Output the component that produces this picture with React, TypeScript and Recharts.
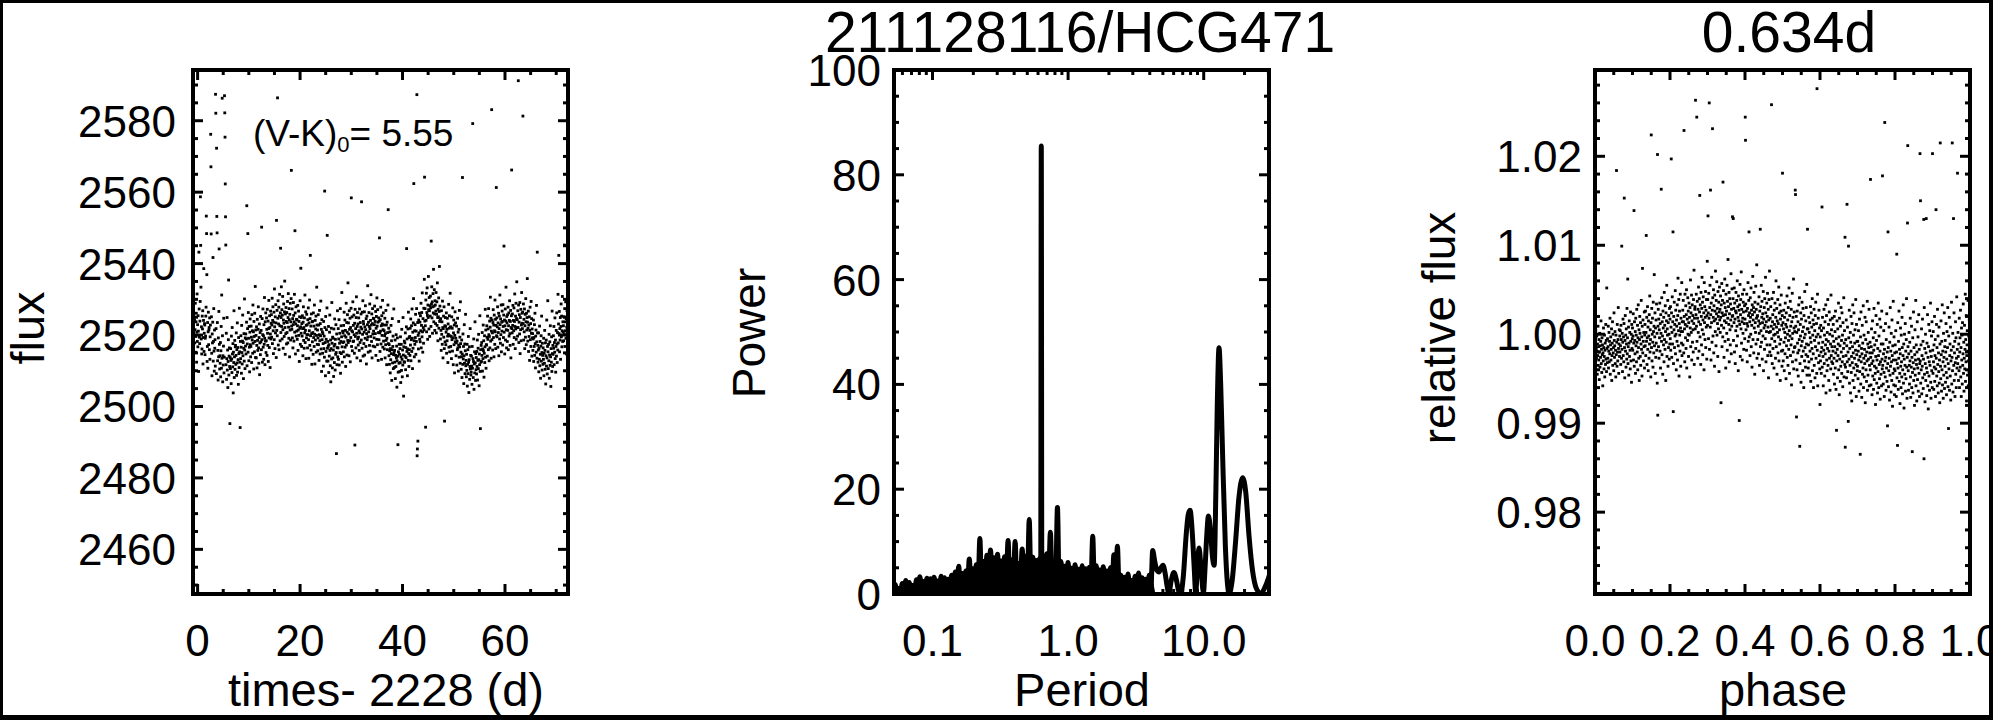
import React from 'react';
import { ScatterChart, Scatter, ComposedChart, Line, Area, XAxis, YAxis, ReferenceArea } from 'recharts';

// ---------------- page / layout ----------------
const PAGE_W = 2005;
const PAGE_H = 720;
const FONT = '"Liberation Sans", Arimo, Arial, Helvetica, sans-serif';
const BOX_TOP = 70;
const BOX_BOTTOM = 594;
const PLOT_H = BOX_BOTTOM - BOX_TOP;
const P1 = { left: 193, right: 568 };
const P2 = { left: 894, right: 1269 };
const P3 = { left: 1595, right: 1970 };

// ---------------- panel 1 : light curve ----------------
const LC_T0 = -0.6; // first sample time (d, minus 2228)
const LC_STEP = 0.05; // sample spacing (d)
const LC_FLUX_ZERO = 2500;
// flux - 2500, one row per day (20 samples each), in time order
const LC_FLUX_ROWS: number[][] = [
  [24.3, 17.8, 21.5, 28.9, 15.2, 19.6, 23.7, 26.1, 12.4, 20.8, 31.5, 18.2, 22.9, 16.7, 25.4, 21.1, 9.8, 43.2, 27.3, 19.4],
  [17.6, 23.9, 29.4, 58.7, 45.1, 33.4, 18.9, 22.3, 14.7, 16.1, 25.3, 21.7, 26.8, 11.9, 19.3, 24.1, 38.6, 15.4, 20.5, 23.2],
  [22.8, 14.5, 19.1, 19.7, 25.3, 27.8, 53.3, 48.4, 36.9, 12.6, 16.8, 23.5, 10.7, 20.9, 26.4, 17.3, 21.4, 22.1, 15.9, 24.8],
  [13.2, 19.5, 22.8, 76.2, 67.1, 48.3, 25.1, 14.9, 8.6, 20.3, 17.8, 23.6, 41.7, 12.7, 18.2, 27.4, 15.5, 9.9, 21.4, 16.3],
  [18.7, 11.3, 87.4, 82.1, 21.8, 9.2, 72.3, 53.2, 48.6, 23.5, 12.8, 15.7, 7.4, 19.2, 13.9, 26.6, 44.1, 17.4, 10.5, 14.2],
  [12.1, 17.9, 8.3, 15.6, 22.4, 10.7, 31.2, 13.5, 86.3, 19.8, 6.9, 14.2, 11.6, 16.9, 24.7, 9.4, 13.8, 87.0, 82.2, 75.4],
  [62.3, 53.1, 45.2, 11.7, 20.5, 7.6, 13.4, 24.9, 10.2, 15.8, 5.3, 12.6, 18.7, 35.4, 8.8, 14.1, 16.4, 11.2, -4.8, 13.7],
  [10.6, 16.2, 12.9, 6.4, 19.7, 13.3, 9.5, 22.1, 14.7, 11.1, 17.6, 3.8, 15.2, 12.3, 26.8, 8.1, 13.9, 18.5, 10.4, 16.7],
  [17.1, 11.8, 14.3, 20.6, 8.7, 15.9, 12.2, 23.4, 9.6, 16.5, 13.1, 6.2, 19.3, 14.8, 10.9, 27.5, 15.3, 12.4, -5.9, 18.2],
  [13.4, 19.8, 16.6, 9.3, 22.7, 15.1, 11.9, 18.3, 25.6, 14.2, 17.9, 7.8, 16.3, 20.4, 12.7, 30.1, 15.8, 10.6, 19.2, 16.9],
  [20.3, 14.7, 18.9, 23.6, 56.2, 11.4, 17.5, 21.8, 48.4, 15.2, 26.3, 19.1, 12.8, 22.4, 16.6, 9.7, 20.8, 24.5, 17.3, 13.9],
  [16.8, 22.5, 19.4, 12.3, 25.7, 18.6, 21.2, 14.9, 28.4, 17.7, 20.9, 10.5, 23.8, 19.6, 15.3, 26.1, 18.2, 33.6, 13.7, 21.4],
  [19.9, 13.6, 22.3, 17.1, 10.8, 24.4, 18.5, 15.7, 21.6, 27.9, 16.4, 12.1, 19.3, 23.1, 8.9, 17.8, 20.7, 14.5, 25.2, 18.1],
  [21.3, 15.9, 50.2, 18.7, 24.6, 12.4, 20.1, 27.3, 16.6, 19.8, 13.2, 22.9, 17.4, 30.5, 19.1, 11.7, 23.7, 18.3, 26.2, 15.1],
  [18.4, 24.8, 21.6, 14.3, 27.2, 20.5, 17.1, 23.9, 12.6, 21.8, 29.7, 19.2, 16.5, 25.4, 22.1, 10.9, 20.3, 26.7, 18.9, 23.3],
  [25.7, 19.4, 22.8, 30.3, 17.6, 24.1, 27.9, 21.2, 14.8, 23.6, 26.4, 18.7, 32.9, 22.3, 16.2, 25.1, 20.6, 28.5, 23.4, 13.7],
  [52.1, 21.3, 26.9, 19.8, 86.4, 24.7, 29.6, 17.2, 23.1, 27.8, 15.9, 25.3, 31.4, 22.6, 18.4, 26.2, 44.3, 20.7, 24.9, 33.5],
  [22.4, 27.1, 18.9, 25.6, 30.8, 21.5, 16.3, 24.2, 28.7, 23.3, 19.6, 26.5, 35.1, 22.1, 14.6, 25.9, 20.4, 27.7, 23.8, 17.5],
  [26.3, 20.7, 23.5, 29.4, 17.8, 24.9, 31.6, 22.2, 19.1, 27.4, 24.3, 13.9, 25.8, 21.4, 28.9, 18.6, 23.7, 30.2, 66.1, 22.5],
  [21.6, 27.3, 19.2, 24.6, 16.4, 22.9, 29.1, 25.5, 18.3, 23.7, 31.4, 20.8, 49.2, 26.2, 14.7, 23.1, 27.9, 19.7, 24.4, 21.1],
  [24.2, 18.8, 22.6, 28.3, 15.7, 21.4, 26.7, 19.9, 23.8, 12.6, 25.1, 21.9, 29.6, 17.4, 22.3, 38.7, 20.5, 24.9, 16.8, 23.2],
  [19.7, 25.4, 21.8, 14.2, 23.6, 27.9, 18.5, 22.1, 16.3, 24.8, 20.6, 31.2, 17.9, 21.3, 26.5, 13.4, 22.7, 19.2, 25.8, 20.1],
  [22.9, 16.4, 24.3, 20.1, 27.6, 18.7, 13.5, 23.4, 21.2, 29.8, 17.1, 24.6, 42.3, 19.8, 22.5, 15.8, 25.9, 20.4, 11.8, 23.7],
  [18.1, 23.8, 20.7, 14.6, 26.2, 19.3, 22.5, 16.8, 28.4, 20.2, 11.9, 24.1, 18.6, 21.7, 25.3, 15.2, 19.9, 33.4, 22.8, 17.4],
  [21.4, 15.6, 19.2, 25.7, 17.3, 22.8, 12.9, 20.1, 26.9, 18.4, 14.7, 23.2, 19.8, 29.5, 16.1, 21.6, 9.8, 24.3, 18.7, 20.9],
  [14.9, 20.4, 17.6, 11.3, 23.8, 16.2, 19.7, 13.8, 60.3, 22.1, 17.9, 8.6, 25.2, 15.4, 18.8, 21.5, 12.7, 27.6, 47.9, 16.3],
  [18.2, 12.7, 16.9, 22.4, 9.5, 17.3, 14.1, 20.8, 25.6, 15.7, 11.4, 18.6, 6.9, 16.2, 21.9, 13.3, 29.1, 17.7, 10.8, 19.4],
  [13.6, 19.1, 15.8, 8.4, 21.7, 16.9, 12.3, 24.5, 17.4, 10.2, 18.8, 14.6, 22.9, 15.1, -13.2, 20.3, 11.7, 16.5, 26.8, 13.9],
  [16.4, 21.8, 13.2, 18.9, 24.3, 11.6, 17.7, 20.5, 15.1, 27.4, 9.3, 18.2, 22.6, 14.8, 19.5, 31.9, 16.7, 12.4, 21.1, 17.9],
  [20.6, 15.3, 22.7, 18.1, 26.4, 13.9, 19.8, 24.2, 16.6, 21.3, 11.2, 19.4, 28.9, 17.2, 23.5, 14.4, 20.8, 25.7, 18.5, 34.6],
  [17.9, 23.4, 20.3, 14.2, 26.8, 21.6, 18.4, 24.7, 12.5, 22.1, 19.3, 27.5, 58.4, 16.8, 21.2, 25.1, 15.6, 20.9, 29.3, 18.2],
  [22.7, 18.3, 25.6, 20.1, 14.9, 23.3, -10.8, 27.2, 19.6, 21.8, 16.4, 24.9, 30.7, 20.5, 13.6, 22.4, 26.3, 18.9, 23.1, 17.2],
  [19.4, 24.8, 21.2, 15.7, 27.3, 20.6, 17.9, 23.5, 12.8, 22.2, 25.9, 18.6, 57.3, 21.7, 16.3, 26.4, 20.2, 29.6, 14.1, 23.8],
  [23.1, 17.6, 20.8, 26.5, 14.4, 22.3, 19.1, 28.2, 21.5, 16.8, 24.6, 11.9, 20.4, 25.3, 18.7, 22.9, 33.8, 19.5, 15.2, 23.6],
  [20.9, 26.3, 22.4, 17.1, 28.7, 21.8, 15.5, 24.1, 19.6, 31.3, 22.8, 18.2, 25.9, 13.6, 23.2, 27.4, 20.3, 16.9, 24.7, 21.1],
  [24.6, 19.2, 22.9, 28.1, 16.7, 23.8, 20.4, 26.6, 14.3, 21.9, 25.2, 18.8, 30.4, 22.5, 17.3, 27.1, 23.6, 12.9, 20.7, 24.8],
  [18.7, 23.9, 47.2, 20.6, 15.4, 24.3, 21.1, 27.8, 17.5, 22.6, 13.2, 25.4, 19.9, 23.1, 29.7, 16.6, 21.5, 26.2, 18.3, 22.8],
  [21.2, 16.1, 19.8, 24.7, 13.6, 20.4, 17.3, 26.9, 18.5, 22.8, 11.7, 19.1, 23.6, 15.9, 20.7, 28.4, 55.1, 17.6, 21.9, 14.2],
  [17.3, 11.8, 15.6, 20.9, 9.4, 16.2, 13.1, 22.7, 14.8, 18.4, 7.3, 15.9, 24.6, 12.2, 16.8, 19.7, 10.6, 14.5, 27.3, 15.1],
  [10.9, 15.7, 12.4, 18.6, 7.8, 14.3, 11.2, 20.1, 13.6, 16.9, 5.4, 12.8, 19.2, 14.1, -10.7, 9.6, 15.3, 23.8, 12.1, 17.4],
  [14.6, 9.8, 16.2, 12.3, 19.5, 6.7, 13.9, 17.4, 10.1, 21.6, 13.2, 8.3, 15.8, 11.6, 24.9, 14.4, 2.9, 16.7, 12.5, 18.3],
  [12.4, 17.8, 14.1, 20.6, 10.3, 16.5, 13.7, 22.3, 44.2, 15.4, 18.9, 8.6, 16.1, 21.7, 12.9, 26.4, 14.8, 11.2, 19.3, 15.9],
  [19.6, 14.3, 21.9, 17.2, 24.5, 12.8, 18.7, 22.6, 15.4, 27.3, 19.1, 10.6, 20.8, 16.3, 23.4, 30.2, 62.4, 18.4, 13.9, 21.2],
  [17.4, 22.9, 19.3, 25.8, 14.6, 21.1, 18.2, 27.4, 87.3, -13.8, -11.9, 23.5, -9.7, 19.9, 16.1, 24.2, 20.6, 12.7, 26.1, 18.8],
  [23.6, 18.1, 25.4, 21.2, 28.9, 16.4, 22.7, 26.3, 19.5, 31.8, 20.9, 15.2, 24.6, 22.1, 17.7, 27.5, 21.4, 35.6, 64.2, 23.9],
  [27.4, 22.6, -5.8, 29.8, 24.1, 31.7, 20.9, 26.3, 33.2, 25.5, 18.8, 28.4, 24.9, 36.4, 27.1, 21.7, 30.5, 26.8, 19.6, 28.2],
  [25.3, 30.9, 27.6, 22.4, 46.3, 28.7, 33.5, 24.8, 29.3, 20.5, 27.9, 31.6, 26.2, 38.4, 23.7, 28.1, 32.7, 25.9, 21.3, 29.6],
  [28.4, 23.2, 26.7, 31.9, 20.6, 25.8, 29.3, 22.7, 34.6, 24.9, 18.4, 27.2, 25.1, 30.4, 21.9, 26.6, 39.2, 23.8, 28.1, 24.3],
  [18.9, 24.6, 21.3, 15.7, 26.8, 20.2, 23.7, 17.4, 29.5, 22.1, 13.6, 21.8, 25.3, 19.4, 27.9, 16.2, -4.1, 22.6, 18.1, 24.9],
  [22.4, 17.3, 20.8, 26.2, 14.9, 21.6, 18.4, 24.7, 19.7, 12.3, 23.1, 20.2, 28.6, 16.6, 21.9, 25.4, 15.3, 19.8, 31.7, 22.2],
  [16.8, 22.3, 19.6, 13.4, 25.1, 18.7, 21.9, 15.5, 27.6, 19.2, 11.7, 20.6, 24.2, 17.3, 22.8, 9.4, 19.9, 26.5, 18.1, 23.4],
  [19.1, 14.2, 17.8, 22.5, 11.6, 18.3, 15.9, 24.7, 16.4, 20.8, 9.9, 17.2, 21.6, 13.8, 26.9, 16.7, 19.4, 12.1, 29.3, 17.6],
  [15.2, 10.4, 13.9, 18.6, 8.1, 14.7, 64.1, 11.8, 20.3, 13.3, 16.8, 6.4, 14.2, 22.9, 12.1, 17.5, 9.2, 15.6, 25.8, 11.4],
  [12.9, 8.3, 14.6, 10.1, 17.4, 5.7, 11.8, 15.9, 9.2, 19.6, 12.4, 3.9, 13.1, 16.7, 7.6, 11.2, 21.8, 10.5, 14.3, 8.8],
  [9.6, 14.1, 11.3, 6.2, 16.8, 10.7, 79.2, 13.4, 8.1, 12.6, 18.9, 4.8, 11.9, 15.3, 9.4, 23.7, 12.2, 7.3, 14.8, 10.3],
  [13.7, 9.1, 15.4, 11.2, 18.6, 7.4, 12.9, 16.3, 10.6, 20.2, 13.1, 5.8, 14.7, 11.7, 25.4, 9.8, -6.2, 15.9, 12.4, 17.1],
  [12.6, 17.9, 14.3, 20.7, 9.9, 16.1, 13.4, 22.8, 15.6, 18.4, 8.2, 14.9, 19.8, 12.3, 16.7, 27.2, 13.8, 21.4, 10.7, 17.3],
  [17.2, 22.6, 19.4, 14.1, 25.3, 18.8, 21.7, 15.9, 27.4, 20.1, 12.8, 19.6, 23.9, 16.4, 22.2, 30.6, 18.3, 24.7, 13.5, 21.1],
  [83.1, 18.7, 24.2, 20.6, 15.8, 23.5, 27.1, 19.3, 22.8, 13.9, 25.6, 21.2, 17.4, 29.8, 20.9, 24.4, 16.2, 22.7, 61.3, 19.8],
  [24.8, 19.5, 22.3, 27.9, 16.6, 23.4, 20.7, 26.1, 14.2, 21.8, 25.3, 18.9, 31.2, 22.9, 17.7, 24.5, 20.1, 28.4, 15.3, 23.6],
  [21.1, 26.7, 23.8, 17.2, 28.5, 22.4, 19.3, 25.6, 44.9, 20.8, 24.2, 14.7, 22.6, 27.3, 18.6, 23.9, 33.4, 21.5, 16.4, 25.2],
  [23.4, 18.2, 25.7, 21.3, 27.8, 15.9, 22.6, 26.2, 19.7, 24.1, 29.6, 20.4, 17.1, 23.8, 26.9, 13.6, 22.1, 25.4, 66.2, 21.8],
  [20.6, 25.9, 22.7, 28.3, 17.4, 24.1, 21.2, 27.6, 19.3, 23.8, 31.5, 22.4, 16.2, 25.3, 21.7, 28.9, 18.8, 24.6, 34.9, 22.1],
  [24.3, 19.7, 26.8, 22.1, 91.2, 28.4, 17.9, 23.6, 25.7, 20.3, 29.1, 14.8, 24.9, 21.5, 27.2, 18.4, 22.8, 31.9, 23.3, 26.1],
  [21.8, 26.4, 81.3, 23.2, 28.7, 18.6, 24.4, 20.9, 27.3, 16.2, 22.6, 25.8, 19.4, 30.2, 23.7, 17.3, 26.1, 21.4, 24.9, 35.8],
  [23.6, 18.3, 21.9, 26.7, 15.4, 22.8, 19.6, 25.1, 12.9, 21.3, 27.8, 18.7, 23.2, 16.8, 29.4, 20.5, 24.6, 14.1, 21.7, 19.2],
  [20.4, 15.7, 18.9, 24.2, 12.6, 19.3, 16.8, 22.9, 14.3, 26.1, 17.6, 10.8, 19.7, 21.4, 15.2, 28.3, 18.1, 13.5, 43.2, 20.6],
  [17.1, 12.4, 15.8, 20.6, 9.7, 16.3, 13.2, 22.5, 11.4, 18.2, 14.6, 7.9, 16.9, 19.8, 12.7, 25.3, 15.1, 10.2, 17.7, 14.3],
  [11.8, 16.4, 13.2, 19.1, 8.6, 14.9, 12.1, 21.3, 15.7, 10.4, 17.8, 6.3, 14.2, 18.6, 11.3, 24.2, 13.6, 9.1, 16.8, 29.6],
  [15.3, 10.6, 17.4, 12.8, 20.2, 7.9, 14.4, 18.1, 11.5, 22.6, 13.9, 5.6, 16.2, 12.4, 19.5, 9.8, 26.7, 14.8, 11.2, 17.1],
  [14.6, 19.8, 16.3, 22.4, 11.7, 17.9, 15.2, 24.8, 13.4, 18.6, 9.6, 16.8, 21.3, 14.1, 26.2, 17.5, 12.3, 20.7, 15.8, 31.4],
  [17.8, 23.1, 42.3, 20.4, 26.6, 15.3, 21.8, 18.6, 24.9, 13.2, 22.4, 28.7, 19.5, 25.3, 16.7, 21.2, 30.8, 18.2, 23.7, 20.9],
  [22.6, 18.4, 25.1, 20.3, 45.2, 27.4, 16.8, 23.7, 21.2, 29.3, 19.1, 24.6, 14.7, 22.2, 26.8, 20.6, 33.1, 18.9, 23.4, 21.7],
];
const LC_X_DOMAIN: [number, number] = [-0.9, 72.3];
const LC_Y_DOMAIN: [number, number] = [2447.5, 2594.2];
const LC_X_TICKS = [0, 5, 10, 15, 20, 25, 30, 35, 40, 45, 50, 55, 60, 65, 70];
const LC_X_MAJOR = [0, 20, 40, 60];
const LC_X_LABELS = ['0', '20', '40', '60'];
const LC_Y_TICKS = [2450, 2455, 2460, 2465, 2470, 2475, 2480, 2485, 2490, 2495, 2500, 2505, 2510, 2515, 2520, 2525, 2530, 2535, 2540, 2545, 2550, 2555, 2560, 2565, 2570, 2575, 2580, 2585, 2590];
const LC_Y_MAJOR = [2460, 2480, 2500, 2520, 2540, 2560, 2580];
const LC_Y_LABELS = ['2460', '2480', '2500', '2520', '2540', '2560', '2580'];

// ---------------- panel 2 : periodogram ----------------
const PG_PERIOD = [
  0.05, 0.0515, 0.0531, 0.0547, 0.0564, 0.0581, 0.0598, 0.0617, 0.0635, 0.0655,
  0.0675, 0.0695, 0.0716, 0.0738, 0.0761, 0.0784, 0.0807, 0.0832, 0.0857, 0.0883,
  0.091, 0.0938, 0.0966, 0.0996, 0.1026, 0.1057, 0.1089, 0.1122, 0.1157, 0.1192,
  0.1228, 0.1265, 0.1304, 0.1343, 0.1384, 0.1426, 0.147, 0.1514, 0.156, 0.1608,
  0.1657, 0.1707, 0.1759, 0.1812, 0.1867, 0.1924, 0.1983, 0.2043, 0.2105, 0.2169,
  0.2235, 0.2303, 0.2373, 0.2445, 0.2519, 0.2596, 0.2675, 0.2756, 0.284, 0.2926,
  0.3015, 0.3107, 0.3201, 0.3298, 0.3399, 0.3502, 0.3608, 0.3718, 0.3831, 0.3947,
  0.4067, 0.4191, 0.4318, 0.4449, 0.4585, 0.4724, 0.4868, 0.5016, 0.5168, 0.5325,
  0.5487, 0.5654, 0.5826, 0.6003, 0.6185, 0.628, 0.634, 0.64, 0.6567, 0.6766,
  0.6972, 0.7184, 0.7402, 0.7627, 0.7859, 0.8098, 0.8344, 0.8597, 0.8859, 0.9128,
  0.9406, 0.9692, 0.9986, 1.029, 1.06, 1.093, 1.126, 1.16, 1.195, 1.232,
  1.269, 1.308, 1.347, 1.388, 1.431, 1.474, 1.519, 1.565, 1.613, 1.662,
  1.712, 1.764, 1.818, 1.873, 1.93, 1.989, 2.049, 2.111, 2.176, 2.242,
  2.31, 2.38, 2.452, 2.527, 2.604, 2.683, 2.764, 2.848, 2.935, 3.024,
  3.116, 3.211, 3.308, 3.409, 3.512, 3.619, 3.729, 3.842, 3.959, 4.079,
  4.203, 4.37, 4.52, 4.68, 4.84, 5.01, 5.19, 5.37, 5.53, 5.75,
  6.03, 6.31, 6.53, 6.76, 7.08, 7.41, 7.67, 7.93, 8.22, 8.51,
  8.73, 8.97, 9.23, 9.55, 9.95, 10.23, 10.52, 10.84, 11.22, 11.61,
  11.94, 12.3, 12.59, 12.97, 13.34, 13.8, 14.45, 14.96, 15.38, 16.2,
  17.18, 18.2, 19.36, 20.4, 21.6, 22.9, 24.5, 26.4, 28.2, 30.0, 30.5,
];
const PG_POWER = [
  1.2, 0.2, 1.8, 0.5, 1.0, 0.1, 2.0, 0.6, 2.6, 0.3,
  2.2, 0.8, 1.6, 0.2, 2.7, 0.9, 3.3, 0.4, 2.4, 1.1,
  3.0, 0.3, 2.9, 0.7, 3.2, 1.2, 2.5, 0.4, 3.4, 0.9,
  3.1, 0.2, 2.8, 1.3, 3.6, 0.6, 4.2, 1.0, 5.3, 0.3,
  3.9, 1.4, 4.4, 0.8, 6.7, 1.6, 4.8, 0.5, 5.6, 1.9,
  10.6, 0.7, 6.2, 2.2, 7.4, 1.0, 8.4, 2.6, 6.9, 0.9,
  7.6, 2.4, 6.3, 1.2, 7.1, 3.0, 10.2, 1.5, 6.5, 2.2,
  10.0, 0.8, 5.8, 2.7, 8.6, 1.3, 7.2, 3.1, 14.2, 1.1,
  7.0, 2.5, 6.4, 0.9, 6.8, 1.0, 85.5, 1.2, 6.3, 1.7,
  7.7, 3.2, 11.8, 1.4, 5.2, 2.8, 16.5, 0.8, 6.2, 2.3,
  5.3, 1.2, 6.0, 2.6, 4.9, 0.9, 5.6, 2.1, 4.7, 1.0,
  5.4, 1.8, 4.8, 0.7, 5.1, 2.2, 11.0, 1.1, 5.4, 1.9,
  4.6, 0.6, 5.2, 1.7, 4.4, 0.9, 5.0, 1.4, 7.5, 2.4,
  9.1, 0.5, 3.6, 0.8, 3.2, 0.3, 3.8, 1.2, 2.6, 0.2,
  3.4, 0.9, 4.0, 0.4, 3.1, 0.7, 2.8, 0.1, 3.6, 1.0,
  8.3, 6.0, 4.5, 4.2, 5.0, 5.5, 4.0, 1.5, 0.1, 2.5,
  4.1, 2.5, 0.6, 0.1, 3.5, 11.0, 15.0, 16.0, 12.0, 5.0,
  0.2, 5.0, 8.8, 5.0, 0.3, 5.0, 11.0, 14.9, 12.0, 7.0,
  5.5, 20.0, 36.0, 47.0, 40.0, 26.0, 9.0, 2.0, 0.1, 2.5,
  10.0, 18.5, 22.2, 19.5, 11.0, 4.5, 1.0, 0.1, 1.2, 3.0, 3.6,
];
// solid floor of the unresolved short-period forest of peaks
const PG_FOREST_PERIOD = [0.05, 0.06, 0.07, 0.085, 0.1, 0.125, 0.15, 0.185, 0.22, 0.25, 0.3, 0.4, 0.5, 0.65, 0.8, 1.0, 1.3, 1.7, 2.0, 2.3, 2.6, 3.0, 3.5, 4.0, 4.25, 4.4];
const PG_FOREST_FLOOR = [1.3, 1.6, 2.0, 2.3, 2.6, 2.8, 3.0, 3.3, 3.6, 4.3, 4.8, 5.2, 5.4, 5.3, 5.1, 4.8, 4.6, 4.4, 4.2, 3.8, 3.3, 3.0, 2.8, 2.6, 2.2, 0.0];
const PG_X_DOMAIN: [number, number] = [0.052, 30.3];
const PG_Y_DOMAIN: [number, number] = [0, 100];
const PG_X_TICKS = [0.06, 0.07, 0.08, 0.09, 0.1, 0.2, 0.3, 0.4, 0.5, 0.6, 0.7, 0.8, 0.9, 1, 2, 3, 4, 5, 6, 7, 8, 9, 10, 20, 30];
const PG_X_MAJOR = [0.1, 1, 10];
const PG_X_LABELS = ['0.1', '1.0', '10.0'];
const PG_Y_TICKS = [0, 5, 10, 15, 20, 25, 30, 35, 40, 45, 50, 55, 60, 65, 70, 75, 80, 85, 90, 95, 100];
const PG_Y_MAJOR = [0, 20, 40, 60, 80, 100];
const PG_Y_LABELS = ['0', '20', '40', '60', '80', '100'];

// ---------------- panel 3 : phased light curve ----------------
// (relative flux - 1) x 1e4, points sorted by phase (0 -> 1)
const PH_REL_ROWS: number[][] = [
  [-31, -9, -22, 4, -40, -16, -27, -2, -19, -45, -11, -24, 9, -35, -14, -29, -6, -51, -20, 1, -37, -13, -26, -8, 15, -33, -17, -43, -4, -23, -12, -58, -21, -30, 7, -15, -39, -25, -1, -48, -18, -10, -34, 11, -28, -7, -42, 52, -16, -32],
  [-5, -27, -14, 9, -38, -19, 2, -31, -8, -22, 18, -45, -12, -3, -29, -17, 6, -52, -24, -10, 14, -35, 0, -21, -15, -41, 24, -7, -26, -13, 3, -33, -18, -48, -1, -23, 184, -9, -36, 11, -20, -30, -6, 30, -16, -44, -11, 5, -25, -2],
  [-20, 4, -13, -34, 10, -6, -27, 99, -17, 1, -42, -9, 17, -24, -3, -31, 12, 153, -15, -49, -7, 21, -19, -1, -37, 6, -11, -28, 29, -22, -4, 62, -33, -14, 8, -46, -10, 15, -25, 2, -18, -39, 25, -8, -30, 0, -54, 11, -16, -5],
  [7, -18, -2, 23, -29, -10, 139, -36, 14, -7, -22, 3, -44, 18, -13, -1, -31, 28, -9, -20, 10, -40, -4, 33, -15, -27, 5, -52, -6, 20, 1, -25, 13, -35, -11, 38, -17, -3, -47, 9, 74, -21, 16, -8, -30, 2, -14, 25, -38, -1],
  [11, -13, 26, -24, 2, 111, -8, 19, -34, -4, 31, -17, 8, -41, 15, -2, -27, 22, -11, 43, -20, 5, -6, -48, 13, 224, -15, 29, -30, 0, 18, -9, -37, 36, 3, -21, 9, 67, -13, -3, 24, -44, 7, -26, 16, -10, 34, -18, 1, -55],
  [202, -91, 9, 28, -14, 17, -27, 5, -4, 35, -19, 12, -38, 22, 1, 163, -8, 41, -23, 14, -2, -45, 26, 7, -12, 19, -31, 47, -6, 10, -17, 32, 3, -52, 24, -9, 15, 55, -25, 6, -1, 38, -36, 13, -15, 21, 0, -28, 29, -11],
  [17, -5, 31, -18, 8, 197, 24, -26, 2, 42, -11, 14, 115, -87, -33, 20, 5, 36, -15, 11, -2, 49, -22, 27, 0, -40, 16, 9, -8, 33, -29, 21, 63, -13, 4, 39, -47, 12, 26, -1, -19, 45, 7, -36, 18, 3, -10, 58, -24, 14],
  [3, 27, -12, 38, 14, -21, 229, 20, 6, -31, 45, 11, -4, 32, -16, 22, 50, -38, 9, 17, -7, 41, 0, 26, -25, 13, 35, -1, 19, -48, 30, 7, 61, -14, 24, 2, 44, -29, 15, 33, -9, 21, 5, -20, 39, 12, 72, -34, 18, 28],
  [31, 6, 263, -16, 22, 45, 9, 244, -8, 37, 18, -27, 28, 2, 53, 14, -19, 40, 25, 156, -3, 33, 11, -34, 47, 20, -12, 29, 64, 5, 36, -23, 16, 42, 0, 24, -40, 58, 13, 31, -6, 19, 48, -15, 27, 8, 39, -28, 21, 82],
  [10, 39, 133, 24, -5, 46, 18, 260, -17, 30, 55, 8, 162, 22, -29, 35, 13, 64, -9, 27, 231, 41, -2, 19, 50, -21, 32, 15, -36, 44, 26, 3, 71, 17, -13, 38, 23, 59, -1, 29, 12, -25, 48, 20, 6, 36, -42, 25, 53, 16],
  [28, 2, 43, 19, -77, 33, 10, 57, -14, 24, 38, -3, 171, 21, 49, 7, -26, 35, 15, 62, -8, 30, 22, -38, 45, 13, 26, 1, 55, -18, 37, 18, 84, -6, 31, 11, 47, -31, 23, 40, 5, -12, 34, 16, 68, -22, 28, 9, 51, 20],
  [132, 21, 40, 130, -7, 29, 13, 52, -20, 35, 17, -33, 26, 4, 47, 24, -13, 38, 9, 60, -2, 31, 19, -41, 43, 15, 27, -97, 33, 11, 56, -25, 22, 39, 6, 70, -10, 28, 14, -29, 45, 18, 1, 36, 25, -17, 50, 12, 32, -5],
  [17, 244, 218, 34, 5, 26, -18, 45, 12, -31, 29, 9, 58, -8, 21, 38, 115, -3, 24, 14, -24, 41, 19, 0, 52, -14, 27, 10, -37, 33, 22, 65, -6, 16, 30, -21, 47, 7, 25, -45, 36, 13, 2, 54, -11, 28, 18, 78, -27, 20],
  [21, -6, 34, 9, -22, 15, 42, 1, -35, 26, 12, 118, -14, 31, 4, 55, -9, 19, 37, -28, 13, 23, -2, 48, -41, 17, 7, 30, -17, 40, 10, -5, 64, 24, -31, 14, 3, 35, -12, 20, 46, -24, 8, 28, -49, 16, 39, 2, 71, -20],
  [-12, 18, 3, 31, -24, 9, 258, -5, 40, -33, 14, 22, -16, 6, 47, -1, -38, 27, 11, -8, 35, 0, -27, 19, 60, -14, 8, 29, -45, 15, 2, 39, -21, 12, -3, 53, -30, 24, 5, -11, 33, -52, 17, -6, 26, 44, -19, 10, -36, 21],
  [181, -18, 13, -30, 6, 27, -9, -41, 19, 2, -22, 35, -4, 11, -50, 24, -13, 8, 43, -26, 0, 16, -35, 30, -7, -17, 52, 4, -44, 21, -2, 37, -24, 9, -12, 28, -57, 14, -5, 46, -31, 1, 19, -20, 62, -39, 7, 25, -15, 3],
  [-14, 162, 157, 9, -29, 20, -93, 2, -40, 26, -10, -21, 14, -47, 5, 33, -18, -6, 41, -126, -33, 11, -2, 24, -54, -13, 17, -25, 36, -8, 3, -41, 29, -19, 8, -60, 21, -4, -30, 48, -15, 0, -37, 15, -23, 30, -11, 56, -46, 6],
  [118, -25, 6, -38, -12, 19, -31, 2, -46, 13, -19, -4, 31, -53, -9, 24, -28, 8, -16, 40, -41, -1, 16, -22, -60, 11, 28, -35, -7, 4, -49, 21, -14, 36, -27, -3, 12, -44, 276, -18, 45, -58, 0, 18, -32, -10, 27, -24, 7, -39],
  [-79, -3, -30, 10, -20, -44, 4, -15, 143, -37, 19, -9, -25, -58, 7, -18, 28, -33, -1, -47, 14, -22, -12, 33, -66, -6, 21, -29, -41, 2, -16, 39, -35, -8, 11, -52, -19, 25, -27, 0, -63, 16, -11, -39, 44, -24, 5, -31, -14, 18],
  [-2, -33, -19, 11, -45, -8, -27, 20, -56, -14, 3, -38, 26, -21, -62, -5, -108, -30, 15, -17, -49, 6, -24, -11, 35, -40, -3, -68, 18, -28, -13, -53, 9, -36, 30, -20, -7, -44, 24, -31, -1, -59, 13, -25, -16, 41, -48, -10, 4, -34],
  [109, -127, -37, -6, -24, 16, -49, -13, 146, -31, 8, -42, -20, -98, 99, -4, -28, 27, -55, -16, -35, 2, -66, -9, 20, -43, -25, -75, 12, -32, -14, 33, -52, -21, -1, -38, 24, -60, -27, -10, 5, -46, -18, 39, -34, -70, 11, -23, -8, -41],
  [-36, -8, -50, -19, 4, -29, -64, -13, 17, -42, -25, -135, -3, -56, 25, -31, -16, -71, -22, 10, -45, -10, -38, 32, -60, -27, -1, -48, -17, -33, 19, -77, -24, -6, -40, 14, -53, -20, -30, 37, -63, -11, -46, 2, -28, -15, 28, -58, -35, -21],
  [-9, -40, 174, -26, -57, -14, 6, -33, -68, -21, 15, -47, -30, -4, -62, -18, 29, -51, -36, -12, 2, -44, -79, -25, 21, -38, -7, -55, -29, 11, -66, -16, -42, 35, -24, -60, -2, -34, -50, 17, -19, -73, -31, 8, -45, -11, -58, 26, -28, -39],
  [178, -35, -11, -56, -22, 4, -43, -70, -17, 238, -30, -48, 12, -26, -63, -6, -38, 23, -53, -20, -103, -33, 115, -15, -59, -41, 8, -27, -74, -9, -46, 30, -36, -19, -65, 1, -31, -52, 16, -24, -81, -13, -44, 37, -29, -57, -3, -39, -68, -21],
  [-41, -12, -58, 4, -29, -70, -20, 90, -49, -33, -125, 13, -38, -62, -8, -27, 26, -53, -17, -44, -78, -22, 7, -36, -60, -1, -31, -48, 19, -15, -67, -40, -24, 33, -55, -11, -83, -28, 0, -45, -35, 12, -64, -19, -50, -6, 40, -37, -72, -26],
  [125, 212, -14, -41, -63, -22, 2, -35, -56, -9, -30, 18, -48, -71, -19, -37, 9, -60, -26, -132, -43, -4, -66, -32, 25, -52, -15, -39, -80, -23, 5, -46, -29, 38, -58, -12, -34, -75, -20, 14, -51, -38, -3, -64, -28, 22, -44, -17, -70, -33],
  [203, -30, 150, -55, -12, -40, 6, -67, -24, -36, 17, -49, -8, -61, -28, 129, -140, 30, -45, -16, -76, -33, 0, -52, -21, 130, -38, -69, -10, -43, 22, -58, -26, -84, -14, 11, -47, -31, -63, 4, -35, -19, 35, -54, -72, -25, -2, -41, 14, -60],
  [203, -18, -44, 3, -31, -62, -12, -37, 20, -53, -24, -6, -70, -39, 140, -27, 11, -47, -15, -58, 28, -34, -2, -66, -21, -42, 8, -55, -29, -77, -11, 215, -36, -50, 15, -23, -64, -8, -40, 33, -57, -19, -31, -72, 1, -46, -26, 24, -61, -14],
  [-36, -7, -54, -20, 12, -43, -68, -28, 3, -49, -15, 30, -59, -33, -106, -2, -39, 19, -63, -24, -11, -47, 8, -74, -30, -18, 36, -56, -26, 215, -41, 1, -65, -14, 130, -35, 24, -52, -21, -8, -70, -32, 14, -45, -4, -60, -27, 42, -38, -17],
  [181, -33, 2, -25, -52, -11, -41, 18, -60, -20, -4, -37, 27, -48, -15, -70, 7, -29, -1, -56, 13, -35, -22, 34, -44, -9, -64, -27, 10, -39, -17, 45, -53, -6, -31, 21, -75, -24, -12, 4, -46, -19, 38, -58, -30, -2, -42, 16, -26, -14],
];
const PH_X_DOMAIN: [number, number] = [0, 1];
const PH_Y_DOMAIN: [number, number] = [0.9708, 1.0297];
const PH_X_TICKS = [0, 0.05, 0.1, 0.15, 0.2, 0.25, 0.3, 0.35, 0.4, 0.45, 0.5, 0.55, 0.6, 0.65, 0.7, 0.75, 0.8, 0.85, 0.9, 0.95, 1.0];
const PH_X_MAJOR = [0, 0.2, 0.4, 0.6, 0.8, 1.0];
const PH_X_LABELS = ['0.0', '0.2', '0.4', '0.6', '0.8', '1.0'];
const PH_Y_TICKS = [0.972, 0.974, 0.976, 0.978, 0.98, 0.982, 0.984, 0.986, 0.988, 0.99, 0.992, 0.994, 0.996, 0.998, 1.0, 1.002, 1.004, 1.006, 1.008, 1.01, 1.012, 1.014, 1.016, 1.018, 1.02, 1.022, 1.024, 1.026, 1.028];
const PH_Y_MAJOR = [0.98, 0.99, 1.0, 1.01, 1.02];
const PH_Y_LABELS = ['0.98', '0.99', '1.00', '1.01', '1.02'];

// ---------------- derived tables ----------------
const lcData = LC_FLUX_ROWS.flat().map((d, i) => ({ t: LC_T0 + i * LC_STEP, flux: LC_FLUX_ZERO + d }));
const pgData = PG_PERIOD.map((p, i) => ({ period: p, power: PG_POWER[i] }));
const pgForest = PG_FOREST_PERIOD.map((p, i) => ({ period: p, floor: PG_FOREST_FLOOR[i] }));
const phFlat = PH_REL_ROWS.flat();
const phData = phFlat.map((d, i) => ({ phase: i / phFlat.length, rel: 1 + d / 1e4 }));

// ---------------- styling ----------------
const TICK_FONT = 44;
const MAJOR_LEN = 10;
const MINOR_LEN = 5;
const TICK_W = 3;
const DOT = 2.8;

function majorIndex(list: number[], v: number) {
  return list.findIndex((m) => Math.abs(m - v) <= 1e-7 * Math.max(1, Math.abs(m)));
}

function makeXTick(major: number[], labels: string[]) {
  return (props: any) => {
    const { x, y, payload } = props;
    const mi = majorIndex(major, payload.value);
    const len = mi >= 0 ? MAJOR_LEN : MINOR_LEN;
    const top = y - PLOT_H;
    return (
      <g>
        <line x1={x} y1={y} x2={x} y2={y - len} stroke="#000" strokeWidth={TICK_W} />
        <line x1={x} y1={top} x2={x} y2={top + len} stroke="#000" strokeWidth={TICK_W} />
        {mi >= 0 && (
          <text x={x} y={y + 62} textAnchor="middle" fontFamily={FONT} fontSize={TICK_FONT} fill="#000">
            {labels[mi]}
          </text>
        )}
      </g>
    );
  };
}

function makeYTick(major: number[], labels: string[], plotW: number, gap: number) {
  return (props: any) => {
    const { x, y, payload } = props;
    const mi = majorIndex(major, payload.value);
    const len = mi >= 0 ? MAJOR_LEN : MINOR_LEN;
    const right = x + plotW;
    return (
      <g>
        <line x1={x} y1={y} x2={x + len} y2={y} stroke="#000" strokeWidth={TICK_W} />
        <line x1={right} y1={y} x2={right - len} y2={y} stroke="#000" strokeWidth={TICK_W} />
        {mi >= 0 && (
          <text x={x - gap} y={y + 16} textAnchor="end" fontFamily={FONT} fontSize={TICK_FONT} fill="#000">
            {labels[mi]}
          </text>
        )}
      </g>
    );
  };
}

const DotShape = (props: any) => {
  const { cx, cy } = props;
  if (cx == null || cy == null || isNaN(cx) || isNaN(cy)) return <g />;
  return <rect x={cx - DOT / 2} y={cy - DOT / 2} width={DOT} height={DOT} fill="#000" />;
};

// axes get 1px of room (a zero-size axis is not drawn by recharts)
function margins(p: { left: number; right: number }) {
  return { top: BOX_TOP, bottom: PAGE_H - BOX_BOTTOM - 1, left: p.left - 1, right: PAGE_W - p.right };
}

const layer: React.CSSProperties = { position: 'absolute', left: 0, top: 0 };

export default function App() {
  const w1 = P1.right - P1.left;
  const w2 = P2.right - P2.left;
  const w3 = P3.right - P3.left;
  return (
    <div style={{ position: 'absolute', left: 0, top: 0, width: PAGE_W, height: PAGE_H, background: '#fff', overflow: 'hidden' }}>
      {/* Panel 1 */}
      <div style={layer}>
        <ScatterChart width={PAGE_W} height={PAGE_H} margin={margins(P1)}>
          <XAxis type="number" dataKey="t" domain={LC_X_DOMAIN} allowDataOverflow ticks={LC_X_TICKS} interval={0}
            height={1} tickSize={0} tickMargin={0} axisLine={false} tickLine={false} tick={makeXTick(LC_X_MAJOR, LC_X_LABELS)} />
          <YAxis type="number" dataKey="flux" domain={LC_Y_DOMAIN} allowDataOverflow ticks={LC_Y_TICKS} interval={0}
            width={1} tickSize={0} tickMargin={0} axisLine={false} tickLine={false} tick={makeYTick(LC_Y_MAJOR, LC_Y_LABELS, w1, 17)} />
          <Scatter data={lcData} fill="#000" shape={DotShape} isAnimationActive={false} />
          <ReferenceArea x1={LC_X_DOMAIN[0]} x2={LC_X_DOMAIN[1]} y1={LC_Y_DOMAIN[0]} y2={LC_Y_DOMAIN[1]}
            fill="none" fillOpacity={0} stroke="#000" strokeWidth={4} ifOverflow="visible" />
        </ScatterChart>
      </div>

      {/* Panel 2 */}
      <div style={layer}>
        <ComposedChart width={PAGE_W} height={PAGE_H} margin={margins(P2)}>
          <XAxis type="number" dataKey="period" scale="log" domain={PG_X_DOMAIN} allowDataOverflow ticks={PG_X_TICKS} interval={0}
            height={1} tickSize={0} tickMargin={0} axisLine={false} tickLine={false} tick={makeXTick(PG_X_MAJOR, PG_X_LABELS)} />
          <YAxis type="number" domain={PG_Y_DOMAIN} allowDataOverflow ticks={PG_Y_TICKS} interval={0}
            width={1} tickSize={0} tickMargin={0} axisLine={false} tickLine={false} tick={makeYTick(PG_Y_MAJOR, PG_Y_LABELS, w2, 13)} />
          <Area data={pgForest} dataKey="floor" type="linear" stroke="none" fill="#000" fillOpacity={1}
            baseValue={0} isAnimationActive={false} />
          <Line data={pgData} type="monotone" dataKey="power" stroke="#000" strokeWidth={5} dot={false} activeDot={false}
            strokeLinejoin="round" isAnimationActive={false} />
          <ReferenceArea x1={PG_X_DOMAIN[0]} x2={PG_X_DOMAIN[1]} y1={PG_Y_DOMAIN[0]} y2={PG_Y_DOMAIN[1]}
            fill="none" fillOpacity={0} stroke="#000" strokeWidth={4} ifOverflow="visible" />
        </ComposedChart>
      </div>

      {/* Panel 3 */}
      <div style={layer}>
        <ScatterChart width={PAGE_W} height={PAGE_H} margin={margins(P3)}>
          <XAxis type="number" dataKey="phase" domain={PH_X_DOMAIN} allowDataOverflow ticks={PH_X_TICKS} interval={0}
            height={1} tickSize={0} tickMargin={0} axisLine={false} tickLine={false} tick={makeXTick(PH_X_MAJOR, PH_X_LABELS)} />
          <YAxis type="number" dataKey="rel" domain={PH_Y_DOMAIN} allowDataOverflow ticks={PH_Y_TICKS} interval={0}
            width={1} tickSize={0} tickMargin={0} axisLine={false} tickLine={false} tick={makeYTick(PH_Y_MAJOR, PH_Y_LABELS, w3, 13)} />
          <Scatter data={phData} fill="#000" shape={DotShape} isAnimationActive={false} />
          <ReferenceArea x1={PH_X_DOMAIN[0]} x2={PH_X_DOMAIN[1]} y1={PH_Y_DOMAIN[0]} y2={PH_Y_DOMAIN[1]}
            fill="none" fillOpacity={0} stroke="#000" strokeWidth={4} ifOverflow="visible" />
        </ScatterChart>
      </div>

      {/* Titles, axis titles, annotation, frame */}
      <svg width={PAGE_W} height={PAGE_H} style={{ ...layer, pointerEvents: 'none' }}>
        <g fontFamily={FONT} fill="#000">
          <text x={1080} y={52} textAnchor="middle" fontSize={57}>211128116/HCG471</text>
          <text x={1789} y={52} textAnchor="middle" fontSize={57}>0.634d</text>

          <text x={253} y={146} fontSize={37}>
            (V-K)<tspan fontSize={22} dy={6}>0</tspan><tspan fontSize={37} dy={-6}>= 5.55</tspan>
          </text>

          <text transform="translate(44 328) rotate(-90)" textAnchor="middle" fontSize={47}>flux</text>
          <text transform="translate(765 333) rotate(-90)" textAnchor="middle" fontSize={46}>Power</text>
          <text transform="translate(1455 328) rotate(-90)" textAnchor="middle" fontSize={46}>relative flux</text>

          <text x={386} y={706} textAnchor="middle" fontSize={47}>times- 2228 (d)</text>
          <text x={1082} y={706} textAnchor="middle" fontSize={47}>Period</text>
          <text x={1783} y={706} textAnchor="middle" fontSize={47}>phase</text>
        </g>
        <rect x={0} y={0} width={1993} height={3} fill="#000" />
        <rect x={0} y={0} width={3} height={720} fill="#000" />
        <rect x={1989} y={0} width={4} height={720} fill="#000" />
        <rect x={0} y={715} width={1993} height={5} fill="#000" />
        <rect x={1993} y={0} width={12} height={720} fill="#fff" />
      </svg>
    </div>
  );
}
